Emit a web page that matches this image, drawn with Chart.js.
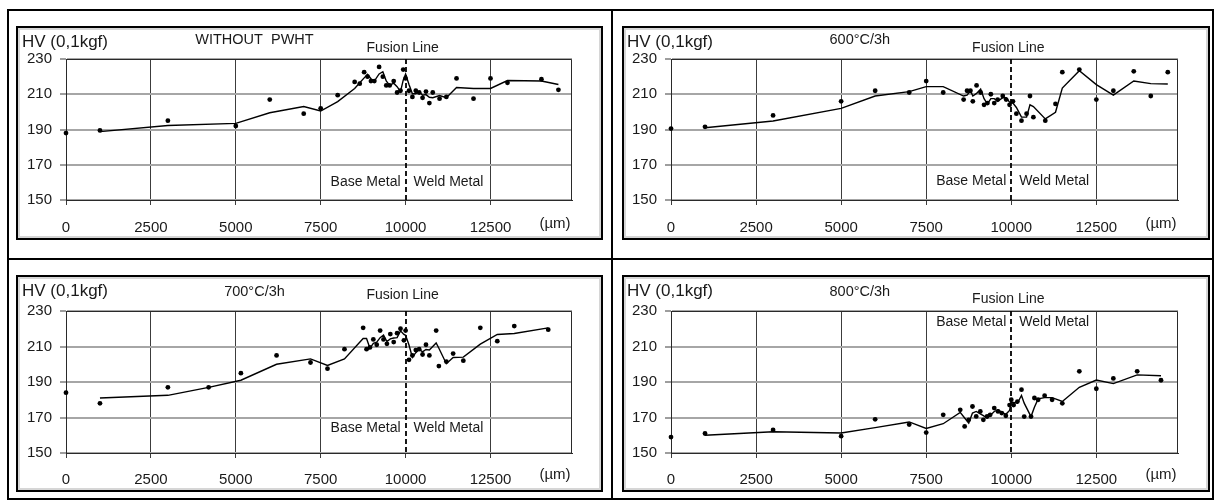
<!DOCTYPE html>
<html><head><meta charset="utf-8">
<script src="https://cdn.jsdelivr.net/npm/chart.js@4.4.1/dist/chart.umd.min.js"></script>
<style>
html,body{margin:0;padding:0;background:#fff;}
body{width:1216px;height:502px;position:relative;overflow:hidden;font-family:"Liberation Sans",Arial,sans-serif;}
.tb{position:absolute;background:#000;}
.frame{position:absolute;box-sizing:border-box;border:2px solid #000;background:#fff;}
.frame .inner{position:absolute;left:0;top:0;right:0;bottom:0;border:2px solid #d6d6d6;}
.cv{position:absolute;}
</style></head><body>
<div class="tb" style="left:7px;top:9px;width:1207px;height:2px"></div>
<div class="tb" style="left:7px;top:498px;width:1207px;height:2px"></div>
<div class="tb" style="left:7px;top:9px;width:2px;height:491px"></div>
<div class="tb" style="left:1212px;top:9px;width:2px;height:491px"></div>
<div class="tb" style="left:611px;top:9px;width:2px;height:491px"></div>
<div class="tb" style="left:7px;top:258px;width:1207px;height:2px"></div>

<div class="frame" style="left:16px;top:26px;width:587px;height:214px"><div class="inner"></div></div>
<div class="frame" style="left:622px;top:26px;width:588px;height:214px"><div class="inner"></div></div>
<div class="frame" style="left:16px;top:275px;width:587px;height:217px"><div class="inner"></div></div>
<div class="frame" style="left:622px;top:275px;width:588px;height:217px"><div class="inner"></div></div>

<canvas id="c1" class="cv" style="left:20px;top:30px" width="579" height="206"></canvas>
<canvas id="c2" class="cv" style="left:626px;top:30px" width="580" height="206"></canvas>
<canvas id="c3" class="cv" style="left:20px;top:279px" width="579" height="209"></canvas>
<canvas id="c4" class="cv" style="left:626px;top:279px" width="580" height="209"></canvas>

<script>
// ---- axis ticks & labels ----
const xTicks = [0, 2500, 5000, 7500, 10000, 12500];
const yTicks = [150, 170, 190, 210, 230];
const panelTitles = ['WITHOUT  PWHT', '600°C/3h', '700°C/3h', '800°C/3h'];
const yAxisLabel = 'HV (0,1kgf)';
const xUnitLabel = '(\u00b5m)';
const fusionLabel = 'Fusion Line';
const baseLabel = 'Base Metal';
const weldLabel = 'Weld Metal';
const fusionX = 10000;

// ---- WITHOUT PWHT ----
const noPwhtPointX = [0,1000,3000,5000,6000,7000,7500,8000,8500,8650,8780,8880,8980,9080,9220,9330,9430,9530,9650,9750,9850,9930,10000,10100,10200,10300,10400,10500,10600,10700,10800,11000,11200,11500,12000,12500,13000,14000,14500];
const noPwhtPointHV = [188,189.5,195,192,207,199,202,209.5,217,216,222.5,220,217.5,217.5,225.5,220,215,215,217.5,211,212,224,219,212,208.5,212,211,208,211.5,205,211,207.5,208.5,219,207.5,219,216.5,218.5,212.5];
const noPwhtTrendX = [1000,3000,5000,6000,7000,7500,8000,8500,8650,8780,8880,8980,9080,9220,9330,9430,9530,9650,9750,9850,9930,10000,10100,10200,10300,10400,10500,10600,10700,10800,11000,11200,11500,12000,12500,13000,14000,14500];
const noPwhtTrendHV = [188.8,192.3,193.5,199.5,203,200.5,205.8,213.3,216.5,219.3,221.3,218.8,217.5,221.5,222.8,217.5,215,216.3,214.3,211.5,218,221.5,215.5,210.3,210.3,211.5,209.5,209.8,208.3,208,209.3,208,213.8,213.3,213.3,217.8,217.5,215.5];

// ---- 600°C/3h ----
const t600PointX = [0,1000,3000,5000,6000,7000,7500,8000,8600,8700,8800,8870,8980,9100,9200,9300,9400,9500,9600,9750,9850,9950,10050,10150,10300,10450,10550,10650,11000,11300,11500,12000,12500,13000,13600,14100,14600];
const t600PointHV = [190.5,191.5,198,206,212,211,217.5,211,207,212,212,206,215,211,204,205,210,205,207,209,207,204,206,199,195,199,209,197,195,204.5,222.5,224,207,212,223,209,222.5];
const t600TrendX = [1000,3000,5000,6000,7000,7500,8000,8600,8700,8800,8870,8980,9100,9200,9300,9400,9500,9600,9750,9850,9950,10050,10150,10300,10450,10550,10650,11000,11300,11500,12000,12500,13000,13600,14100,14600];
const t600TrendHV = [191,194.8,202,209,211.5,214.3,214.3,209,209.5,212,209,210.5,213,207.5,204.5,207.5,207.5,206,208,208,205.5,205,202.5,197,197,204,203,196,199.8,213.5,223.3,215.5,209.5,217.5,216,215.8];

// ---- 700°C/3h ----
const t700PointX = [0,1000,3000,4200,5150,6200,7200,7700,8200,8750,8850,8950,9050,9150,9250,9350,9450,9550,9650,9750,9850,9950,10000,10100,10200,10300,10400,10500,10600,10700,10900,10980,11200,11400,11700,12200,12700,13200,14200];
const t700PointHV = [184,178,187,187,195,205,201,197.5,208.5,220.5,208.5,209.5,214,211,219,214,211.5,217,212.5,217.5,220,213.5,219,202.5,205,208,208.5,205.5,211,205,219,199,201.5,206,202,220.5,213,221.5,219.5];
const t700TrendX = [1000,3000,4200,5150,6200,7200,7700,8200,8750,8850,8950,9050,9150,9250,9350,9450,9550,9650,9750,9850,9950,10000,10100,10200,10300,10400,10500,10600,10700,10900,10980,11200,11400,11700,12200,12700,13200,14200];
const t700TrendHV = [181,182.5,187,191,200,203,199.3,203,214.5,214.5,209,211.8,212.5,215,216.5,212.8,214.3,214.8,215,218.8,216.8,216.3,210.8,203.8,206.5,208.3,207,208.3,208,212,209,200.3,203.8,204,211.3,216.8,217.3,220.5];

// ---- 800°C/3h ----
const t800PointX = [0,1000,3000,5000,6000,7000,7500,8000,8500,8630,8750,8860,8970,9090,9180,9290,9380,9500,9610,9720,9840,9950,10000,10070,10180,10300,10380,10580,10680,10790,10980,11200,11500,12000,12500,13000,13700,14400];
const t800PointHV = [159,161,163,159.5,169,166,161.5,171.5,174.3,165,168.7,176.2,170.6,173.4,168.7,170.6,171.5,175.3,173.4,172.5,171,177,180,177,179,185.7,170.5,170.5,181,180,182.3,180,178,196,186.2,192,196,191];
const t800TrendX = [1000,3000,5000,6000,7000,7500,8000,8500,8630,8750,8860,8970,9090,9180,9290,9380,9500,9610,9720,9840,9950,10000,10070,10180,10300,10380,10580,10680,10790,10980,11200,11500,12000,12500,13000,13700,14400];
const t800TrendHV = [160,162,161.3,164.3,167.5,163.8,166.5,172.9,169.7,166.9,172.5,173.4,172,171.1,169.7,171.1,173.4,174.4,173,171.8,174,178.5,178.5,178,182.4,178.1,170.5,175.8,180.5,181.2,181.2,179,187,191.1,189.1,194,193.5];

const FONT = '"Liberation Sans", Arial, sans-serif';
const pair = (xs, ys) => xs.map((x, i) => ({x: x, y: ys[i]}));

const annot = {
  id: 'annot',
  beforeDatasetsDraw(chart) {
    const {ctx, chartArea: a} = chart;
    ctx.save();
    ctx.strokeStyle = '#2a2a2a';
    ctx.lineWidth = 1;
    ctx.beginPath();
    ctx.moveTo(Math.round(a.left) + 0.5, Math.round(a.top) + 0.5);
    ctx.lineTo(Math.round(a.right) - 0.5, Math.round(a.top) + 0.5);
    ctx.lineTo(Math.round(a.right) - 0.5, Math.round(a.bottom));
    ctx.stroke();
    const xs = chart.scales.x;
    const fx = Math.round(xs.getPixelForValue(fusionX));
    ctx.strokeStyle = '#000';
    ctx.lineWidth = 1.8;
    ctx.setLineDash([5, 3]);
    ctx.beginPath();
    ctx.moveTo(fx, a.top);
    ctx.lineTo(fx, a.bottom);
    ctx.stroke();
    ctx.restore();
  },
  afterDraw(chart, args, o) {
    const {ctx, chartArea: a} = chart;
    const xs = chart.scales.x, ys = chart.scales.y;
    const fx = xs.getPixelForValue(fusionX);
    ctx.save();
    ctx.fillStyle = '#1a1a1a';
    ctx.textBaseline = 'middle';
    ctx.font = '17px ' + FONT;
    ctx.textAlign = 'left';
    ctx.fillText(yAxisLabel, a.left - 44, a.top + o.hvDy);
    ctx.font = '14.5px ' + FONT;
    ctx.textAlign = 'center';
    ctx.fillText(o.title, xs.getPixelForValue(5550), a.top + o.titleDy);
    ctx.font = '14px ' + FONT;
    ctx.fillText(fusionLabel, fx - 3, a.top + o.fusionDy);
    const by = ys.getPixelForValue(o.bwVal);
    ctx.textAlign = 'right';
    ctx.fillText(baseLabel, fx - 5, by);
    ctx.textAlign = 'left';
    ctx.fillText(weldLabel, fx + 8, by);
    ctx.font = '15px ' + FONT;
    ctx.textAlign = 'center';
    ctx.fillText(xUnitLabel, a.right - 17, a.bottom + o.unitDy);
    ctx.restore();
  }
};

function makeChart(id, pX, pY, tX, tY, cfg) {
  return new Chart(document.getElementById(id), {
    type: 'scatter',
    data: {
      datasets: [
        {data: pair(pX, pY), showLine: false, pointRadius: 2.4, pointBackgroundColor: '#000', pointBorderColor: '#000', pointBorderWidth: 0, order: 1, clip: false},
        {data: pair(tX, tY), showLine: true, borderColor: '#000', borderWidth: 1.4, pointRadius: 0, tension: 0, fill: false, order: 2}
      ]
    },
    options: {
      responsive: false, animation: false,
      layout: {padding: {top: cfg.padTop, right: cfg.padRight, left: 0, bottom: 0}},
      plugins: {legend: {display: false}, tooltip: {enabled: false}, annot: cfg},
      scales: {
        x: {
          type: 'linear', min: 0, max: 14900,
          afterBuildTicks: s => { s.ticks = xTicks.map(v => ({value: v})); },
          afterFit: s => { s.height = cfg.xH; },
          grid: {color: c => (c.tick && c.tick.value === fusionX) ? 'rgba(0,0,0,0)' : '#3c3c3c', lineWidth: 1, drawTicks: true, tickLength: 5, tickColor: '#3c3c3c', tickWidth: 1},
          border: {display: true, color: '#2a2a2a', width: 1},
          ticks: {font: {family: FONT, size: 15}, color: '#1a1a1a', padding: cfg.xPad, maxRotation: 0, autoSkip: false, callback: v => String(v)}
        },
        y: {
          type: 'linear', min: 150, max: 230,
          afterBuildTicks: s => { s.ticks = yTicks.map(v => ({value: v})); },
          afterFit: s => { s.width = cfg.yW; },
          grid: {color: '#a6a6a6', lineWidth: 2, drawTicks: true, tickLength: 6, tickColor: '#3c3c3c', tickWidth: 1},
          border: {display: true, color: '#2a2a2a', width: 1},
          ticks: {font: {family: FONT, size: 15}, color: '#1a1a1a', padding: 8, autoSkip: false}
        }
      }
    },
    plugins: [annot]
  });
}

makeChart('c1', noPwhtPointX, noPwhtPointHV, noPwhtTrendX, noPwhtTrendHV,
  {title: panelTitles[0], padTop: 29, padRight: 27, yW: 46, xH: 36, xPad: 14, hvDy: -17, titleDy: -19, fusionDy: -11, bwVal: 160, unitDy: 24});
makeChart('c2', t600PointX, t600PointHV, t600TrendX, t600TrendHV,
  {title: panelTitles[1], padTop: 29, padRight: 28, yW: 45, xH: 36, xPad: 14, hvDy: -17, titleDy: -19, fusionDy: -11, bwVal: 160.8, unitDy: 24});
makeChart('c3', t700PointX, t700PointHV, t700TrendX, t700TrendHV,
  {title: panelTitles[2], padTop: 32, padRight: 27, yW: 46, xH: 35, xPad: 13, hvDy: -20, titleDy: -19, fusionDy: -16, bwVal: 164, unitDy: 22});
makeChart('c4', t800PointX, t800PointHV, t800TrendX, t800TrendHV,
  {title: panelTitles[3], padTop: 32, padRight: 28, yW: 45, xH: 35, xPad: 13, hvDy: -20, titleDy: -19, fusionDy: -12, bwVal: 223.8, unitDy: 22});
</script>
</body></html>
